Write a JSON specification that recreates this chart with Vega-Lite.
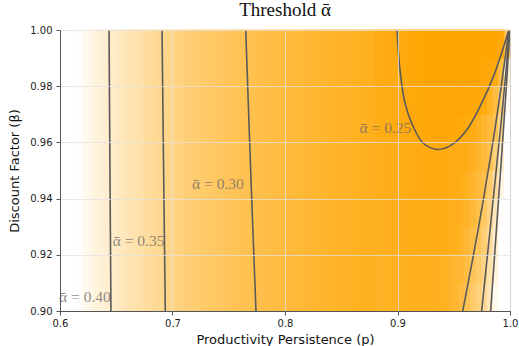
{
  "$schema": "https://vega.github.io/schema/vega-lite/v6.json",
  "width": 450,
  "height": 281,
  "autosize": "none",
  "padding": {"left": 60, "top": 30, "right": 9, "bottom": 35},
  "background": "white",
  "title": {"text": "Threshold ᾱ", "font": "Liberation Serif", "fontSize": 19, "fontWeight": "normal", "color": "#111", "offset": 5},
  "config": {
    "view": {"stroke": "#555", "strokeWidth": 1},
    "axis": {
      "labelFont": "DejaVu Sans", "labelFontSize": 10, "labelColor": "#222", "labelFlush": false,
      "titleFont": "DejaVu Sans", "titleFontSize": 13, "titleFontWeight": "normal", "titleColor": "#111",
      "tickColor": "#555", "tickSize": 4, "domainColor": "#555",
      "gridColor": "#e2e2e2", "gridOpacity": 0.75, "gridWidth": 1
    }
  },
  "layer": [
    {
      "data": {"values": [
        {"p":0.600,"p2":0.605,"b":0.90,"b2":1.00,"a":0.480},
        {"p":0.605,"p2":0.610,"b":0.90,"b2":1.00,"a":0.465},
        {"p":0.610,"p2":0.615,"b":0.90,"b2":1.00,"a":0.450},
        {"p":0.615,"p2":0.620,"b":0.90,"b2":1.00,"a":0.437},
        {"p":0.620,"p2":0.625,"b":0.90,"b2":1.00,"a":0.428},
        {"p":0.625,"p2":0.630,"b":0.90,"b2":1.00,"a":0.421},
        {"p":0.630,"p2":0.635,"b":0.90,"b2":1.00,"a":0.414},
        {"p":0.635,"p2":0.640,"b":0.90,"b2":1.00,"a":0.408},
        {"p":0.640,"p2":0.645,"b":0.90,"b2":1.00,"a":0.402},
        {"p":0.645,"p2":0.650,"b":0.90,"b2":1.00,"a":0.397},
        {"p":0.650,"p2":0.655,"b":0.90,"b2":1.00,"a":0.391},
        {"p":0.655,"p2":0.660,"b":0.90,"b2":1.00,"a":0.386},
        {"p":0.660,"p2":0.665,"b":0.90,"b2":1.00,"a":0.380},
        {"p":0.665,"p2":0.670,"b":0.90,"b2":1.00,"a":0.375},
        {"p":0.670,"p2":0.675,"b":0.90,"b2":1.00,"a":0.370},
        {"p":0.675,"p2":0.680,"b":0.90,"b2":1.00,"a":0.365},
        {"p":0.680,"p2":0.685,"b":0.90,"b2":1.00,"a":0.360},
        {"p":0.685,"p2":0.690,"b":0.90,"b2":1.00,"a":0.355},
        {"p":0.690,"p2":0.695,"b":0.90,"b2":1.00,"a":0.350},
        {"p":0.695,"p2":0.700,"b":0.90,"b2":1.00,"a":0.346},
        {"p":0.700,"p2":0.705,"b":0.90,"b2":1.00,"a":0.342},
        {"p":0.705,"p2":0.710,"b":0.90,"b2":1.00,"a":0.338},
        {"p":0.710,"p2":0.715,"b":0.90,"b2":1.00,"a":0.334},
        {"p":0.715,"p2":0.720,"b":0.90,"b2":1.00,"a":0.330},
        {"p":0.720,"p2":0.725,"b":0.90,"b2":1.00,"a":0.327},
        {"p":0.725,"p2":0.730,"b":0.90,"b2":1.00,"a":0.324},
        {"p":0.730,"p2":0.735,"b":0.90,"b2":1.00,"a":0.321},
        {"p":0.735,"p2":0.740,"b":0.90,"b2":1.00,"a":0.318},
        {"p":0.740,"p2":0.745,"b":0.90,"b2":1.00,"a":0.315},
        {"p":0.745,"p2":0.750,"b":0.90,"b2":1.00,"a":0.312},
        {"p":0.750,"p2":0.755,"b":0.90,"b2":1.00,"a":0.310},
        {"p":0.755,"p2":0.760,"b":0.90,"b2":1.00,"a":0.307},
        {"p":0.760,"p2":0.765,"b":0.90,"b2":1.00,"a":0.305},
        {"p":0.765,"p2":0.770,"b":0.90,"b2":1.00,"a":0.302},
        {"p":0.770,"p2":0.775,"b":0.90,"b2":1.00,"a":0.300},
        {"p":0.775,"p2":0.780,"b":0.90,"b2":1.00,"a":0.298},
        {"p":0.780,"p2":0.785,"b":0.90,"b2":1.00,"a":0.296},
        {"p":0.785,"p2":0.790,"b":0.90,"b2":1.00,"a":0.294},
        {"p":0.790,"p2":0.795,"b":0.90,"b2":1.00,"a":0.292},
        {"p":0.795,"p2":0.800,"b":0.90,"b2":1.00,"a":0.290},
        {"p":0.800,"p2":0.805,"b":0.90,"b2":1.00,"a":0.288},
        {"p":0.805,"p2":0.810,"b":0.90,"b2":1.00,"a":0.286},
        {"p":0.810,"p2":0.815,"b":0.90,"b2":1.00,"a":0.284},
        {"p":0.815,"p2":0.820,"b":0.90,"b2":1.00,"a":0.282},
        {"p":0.820,"p2":0.825,"b":0.90,"b2":1.00,"a":0.280},
        {"p":0.825,"p2":0.830,"b":0.90,"b2":1.00,"a":0.278},
        {"p":0.830,"p2":0.835,"b":0.90,"b2":1.00,"a":0.276},
        {"p":0.835,"p2":0.840,"b":0.90,"b2":1.00,"a":0.275},
        {"p":0.840,"p2":0.845,"b":0.90,"b2":1.00,"a":0.273},
        {"p":0.845,"p2":0.850,"b":0.90,"b2":1.00,"a":0.272},
        {"p":0.850,"p2":0.855,"b":0.90,"b2":1.00,"a":0.270},
        {"p":0.855,"p2":0.860,"b":0.90,"b2":1.00,"a":0.269},
        {"p":0.860,"p2":0.865,"b":0.90,"b2":1.00,"a":0.267},
        {"p":0.865,"p2":0.870,"b":0.90,"b2":1.00,"a":0.266},
        {"p":0.870,"p2":0.875,"b":0.90,"b2":1.00,"a":0.265},
        {"p":0.875,"p2":0.880,"b":0.90,"b2":1.00,"a":0.264},

        {"p":0.880,"p2":0.885,"b":0.98,"b2":1.00,"a":0.256},
        {"p":0.885,"p2":0.890,"b":0.98,"b2":1.00,"a":0.254},
        {"p":0.890,"p2":0.895,"b":0.98,"b2":1.00,"a":0.253},
        {"p":0.895,"p2":0.900,"b":0.98,"b2":1.00,"a":0.251},
        {"p":0.900,"p2":0.905,"b":0.98,"b2":1.00,"a":0.250},
        {"p":0.905,"p2":0.910,"b":0.98,"b2":1.00,"a":0.248},
        {"p":0.910,"p2":0.915,"b":0.98,"b2":1.00,"a":0.246},
        {"p":0.915,"p2":0.920,"b":0.98,"b2":1.00,"a":0.244},
        {"p":0.920,"p2":0.925,"b":0.98,"b2":1.00,"a":0.242},
        {"p":0.925,"p2":0.930,"b":0.98,"b2":1.00,"a":0.241},
        {"p":0.930,"p2":0.935,"b":0.98,"b2":1.00,"a":0.240},
        {"p":0.935,"p2":0.940,"b":0.98,"b2":1.00,"a":0.239},
        {"p":0.940,"p2":0.945,"b":0.98,"b2":1.00,"a":0.238},
        {"p":0.945,"p2":0.950,"b":0.98,"b2":1.00,"a":0.238},
        {"p":0.950,"p2":0.955,"b":0.98,"b2":1.00,"a":0.238},

        {"p":0.880,"p2":0.885,"b":0.96,"b2":0.98,"a":0.259},
        {"p":0.885,"p2":0.890,"b":0.96,"b2":0.98,"a":0.257},
        {"p":0.890,"p2":0.895,"b":0.96,"b2":0.98,"a":0.256},
        {"p":0.895,"p2":0.900,"b":0.96,"b2":0.98,"a":0.254},
        {"p":0.900,"p2":0.905,"b":0.96,"b2":0.98,"a":0.253},
        {"p":0.905,"p2":0.910,"b":0.96,"b2":0.98,"a":0.251},
        {"p":0.910,"p2":0.915,"b":0.96,"b2":0.98,"a":0.249},
        {"p":0.915,"p2":0.920,"b":0.96,"b2":0.98,"a":0.248},
        {"p":0.920,"p2":0.925,"b":0.96,"b2":0.98,"a":0.247},
        {"p":0.925,"p2":0.930,"b":0.96,"b2":0.98,"a":0.246},
        {"p":0.930,"p2":0.935,"b":0.96,"b2":0.98,"a":0.245},
        {"p":0.935,"p2":0.940,"b":0.96,"b2":0.98,"a":0.245},
        {"p":0.940,"p2":0.945,"b":0.96,"b2":0.98,"a":0.245},
        {"p":0.945,"p2":0.950,"b":0.96,"b2":0.98,"a":0.245},
        {"p":0.950,"p2":0.955,"b":0.96,"b2":0.98,"a":0.246},

        {"p":0.880,"p2":0.885,"b":0.94,"b2":0.96,"a":0.262},
        {"p":0.885,"p2":0.890,"b":0.94,"b2":0.96,"a":0.261},
        {"p":0.890,"p2":0.895,"b":0.94,"b2":0.96,"a":0.259},
        {"p":0.895,"p2":0.900,"b":0.94,"b2":0.96,"a":0.258},
        {"p":0.900,"p2":0.905,"b":0.94,"b2":0.96,"a":0.257},
        {"p":0.905,"p2":0.910,"b":0.94,"b2":0.96,"a":0.256},
        {"p":0.910,"p2":0.915,"b":0.94,"b2":0.96,"a":0.255},
        {"p":0.915,"p2":0.920,"b":0.94,"b2":0.96,"a":0.254},
        {"p":0.920,"p2":0.925,"b":0.94,"b2":0.96,"a":0.253},
        {"p":0.925,"p2":0.930,"b":0.94,"b2":0.96,"a":0.253},
        {"p":0.930,"p2":0.935,"b":0.94,"b2":0.96,"a":0.252},
        {"p":0.935,"p2":0.940,"b":0.94,"b2":0.96,"a":0.252},
        {"p":0.940,"p2":0.945,"b":0.94,"b2":0.96,"a":0.253},
        {"p":0.945,"p2":0.950,"b":0.94,"b2":0.96,"a":0.254},
        {"p":0.950,"p2":0.955,"b":0.94,"b2":0.96,"a":0.256},

        {"p":0.880,"p2":0.885,"b":0.92,"b2":0.94,"a":0.266},
        {"p":0.885,"p2":0.890,"b":0.92,"b2":0.94,"a":0.265},
        {"p":0.890,"p2":0.895,"b":0.92,"b2":0.94,"a":0.263},
        {"p":0.895,"p2":0.900,"b":0.92,"b2":0.94,"a":0.262},
        {"p":0.900,"p2":0.905,"b":0.92,"b2":0.94,"a":0.261},
        {"p":0.905,"p2":0.910,"b":0.92,"b2":0.94,"a":0.260},
        {"p":0.910,"p2":0.915,"b":0.92,"b2":0.94,"a":0.259},
        {"p":0.915,"p2":0.920,"b":0.92,"b2":0.94,"a":0.258},
        {"p":0.920,"p2":0.925,"b":0.92,"b2":0.94,"a":0.257},
        {"p":0.925,"p2":0.930,"b":0.92,"b2":0.94,"a":0.257},
        {"p":0.930,"p2":0.935,"b":0.92,"b2":0.94,"a":0.256},
        {"p":0.935,"p2":0.940,"b":0.92,"b2":0.94,"a":0.256},
        {"p":0.940,"p2":0.945,"b":0.92,"b2":0.94,"a":0.257},
        {"p":0.945,"p2":0.950,"b":0.92,"b2":0.94,"a":0.259},
        {"p":0.950,"p2":0.955,"b":0.92,"b2":0.94,"a":0.262},

        {"p":0.880,"p2":0.885,"b":0.90,"b2":0.92,"a":0.270},
        {"p":0.885,"p2":0.890,"b":0.90,"b2":0.92,"a":0.269},
        {"p":0.890,"p2":0.895,"b":0.90,"b2":0.92,"a":0.267},
        {"p":0.895,"p2":0.900,"b":0.90,"b2":0.92,"a":0.266},
        {"p":0.900,"p2":0.905,"b":0.90,"b2":0.92,"a":0.265},
        {"p":0.905,"p2":0.910,"b":0.90,"b2":0.92,"a":0.264},
        {"p":0.910,"p2":0.915,"b":0.90,"b2":0.92,"a":0.263},
        {"p":0.915,"p2":0.920,"b":0.90,"b2":0.92,"a":0.262},
        {"p":0.920,"p2":0.925,"b":0.90,"b2":0.92,"a":0.262},
        {"p":0.925,"p2":0.930,"b":0.90,"b2":0.92,"a":0.262},
        {"p":0.930,"p2":0.935,"b":0.90,"b2":0.92,"a":0.263},
        {"p":0.935,"p2":0.940,"b":0.90,"b2":0.92,"a":0.264},
        {"p":0.940,"p2":0.945,"b":0.90,"b2":0.92,"a":0.267},
        {"p":0.945,"p2":0.950,"b":0.90,"b2":0.92,"a":0.271},
        {"p":0.950,"p2":0.955,"b":0.90,"b2":0.92,"a":0.278},

        {"p":0.955,"p2":0.960,"b":0.90,"b2":0.91,"a":0.290},
        {"p":0.960,"p2":0.965,"b":0.90,"b2":0.91,"a":0.307},
        {"p":0.965,"p2":0.970,"b":0.90,"b2":0.91,"a":0.322},
        {"p":0.970,"p2":0.975,"b":0.90,"b2":0.91,"a":0.338},
        {"p":0.975,"p2":0.980,"b":0.90,"b2":0.91,"a":0.355},
        {"p":0.980,"p2":0.985,"b":0.90,"b2":0.91,"a":0.385},
        {"p":0.985,"p2":0.990,"b":0.90,"b2":0.91,"a":0.428},
        {"p":0.990,"p2":0.995,"b":0.90,"b2":0.91,"a":0.470},
        {"p":0.995,"p2":1.000,"b":0.90,"b2":0.91,"a":0.520},

        {"p":0.955,"p2":0.960,"b":0.91,"b2":0.92,"a":0.280},
        {"p":0.960,"p2":0.965,"b":0.91,"b2":0.92,"a":0.293},
        {"p":0.965,"p2":0.970,"b":0.91,"b2":0.92,"a":0.308},
        {"p":0.970,"p2":0.975,"b":0.91,"b2":0.92,"a":0.323},
        {"p":0.975,"p2":0.980,"b":0.91,"b2":0.92,"a":0.345},
        {"p":0.980,"p2":0.985,"b":0.91,"b2":0.92,"a":0.375},
        {"p":0.985,"p2":0.990,"b":0.91,"b2":0.92,"a":0.413},
        {"p":0.990,"p2":0.995,"b":0.91,"b2":0.92,"a":0.455},
        {"p":0.995,"p2":1.000,"b":0.91,"b2":0.92,"a":0.500},

        {"p":0.955,"p2":0.960,"b":0.92,"b2":0.93,"a":0.272},
        {"p":0.960,"p2":0.965,"b":0.92,"b2":0.93,"a":0.282},
        {"p":0.965,"p2":0.970,"b":0.92,"b2":0.93,"a":0.295},
        {"p":0.970,"p2":0.975,"b":0.92,"b2":0.93,"a":0.310},
        {"p":0.975,"p2":0.980,"b":0.92,"b2":0.93,"a":0.332},
        {"p":0.980,"p2":0.985,"b":0.92,"b2":0.93,"a":0.362},
        {"p":0.985,"p2":0.990,"b":0.92,"b2":0.93,"a":0.401},
        {"p":0.990,"p2":0.995,"b":0.92,"b2":0.93,"a":0.445},
        {"p":0.995,"p2":1.000,"b":0.92,"b2":0.93,"a":0.490},

        {"p":0.955,"p2":0.960,"b":0.93,"b2":0.94,"a":0.266},
        {"p":0.960,"p2":0.965,"b":0.93,"b2":0.94,"a":0.274},
        {"p":0.965,"p2":0.970,"b":0.93,"b2":0.94,"a":0.285},
        {"p":0.970,"p2":0.975,"b":0.93,"b2":0.94,"a":0.297},
        {"p":0.975,"p2":0.980,"b":0.93,"b2":0.94,"a":0.318},
        {"p":0.980,"p2":0.985,"b":0.93,"b2":0.94,"a":0.344},
        {"p":0.985,"p2":0.990,"b":0.93,"b2":0.94,"a":0.388},
        {"p":0.990,"p2":0.995,"b":0.93,"b2":0.94,"a":0.436},
        {"p":0.995,"p2":1.000,"b":0.93,"b2":0.94,"a":0.480},

        {"p":0.955,"p2":0.960,"b":0.94,"b2":0.95,"a":0.260},
        {"p":0.960,"p2":0.965,"b":0.94,"b2":0.95,"a":0.266},
        {"p":0.965,"p2":0.970,"b":0.94,"b2":0.95,"a":0.275},
        {"p":0.970,"p2":0.975,"b":0.94,"b2":0.95,"a":0.287},
        {"p":0.975,"p2":0.980,"b":0.94,"b2":0.95,"a":0.297},
        {"p":0.980,"p2":0.985,"b":0.94,"b2":0.95,"a":0.326},
        {"p":0.985,"p2":0.990,"b":0.94,"b2":0.95,"a":0.362},
        {"p":0.990,"p2":0.995,"b":0.94,"b2":0.95,"a":0.418},
        {"p":0.995,"p2":1.000,"b":0.94,"b2":0.95,"a":0.470},

        {"p":0.955,"p2":0.960,"b":0.95,"b2":0.96,"a":0.254},
        {"p":0.960,"p2":0.965,"b":0.95,"b2":0.96,"a":0.258},
        {"p":0.965,"p2":0.970,"b":0.95,"b2":0.96,"a":0.265},
        {"p":0.970,"p2":0.975,"b":0.95,"b2":0.96,"a":0.276},
        {"p":0.975,"p2":0.980,"b":0.95,"b2":0.96,"a":0.287},
        {"p":0.980,"p2":0.985,"b":0.95,"b2":0.96,"a":0.299},
        {"p":0.985,"p2":0.990,"b":0.95,"b2":0.96,"a":0.337},
        {"p":0.990,"p2":0.995,"b":0.95,"b2":0.96,"a":0.400},
        {"p":0.995,"p2":1.000,"b":0.95,"b2":0.96,"a":0.460},

        {"p":0.955,"p2":0.960,"b":0.96,"b2":0.97,"a":0.248},
        {"p":0.960,"p2":0.965,"b":0.96,"b2":0.97,"a":0.250},
        {"p":0.965,"p2":0.970,"b":0.96,"b2":0.97,"a":0.256},
        {"p":0.970,"p2":0.975,"b":0.96,"b2":0.97,"a":0.265},
        {"p":0.975,"p2":0.980,"b":0.96,"b2":0.97,"a":0.276},
        {"p":0.980,"p2":0.985,"b":0.96,"b2":0.97,"a":0.288},
        {"p":0.985,"p2":0.990,"b":0.96,"b2":0.97,"a":0.304},
        {"p":0.990,"p2":0.995,"b":0.96,"b2":0.97,"a":0.360},
        {"p":0.995,"p2":1.000,"b":0.96,"b2":0.97,"a":0.450},

        {"p":0.955,"p2":0.960,"b":0.97,"b2":0.98,"a":0.243},
        {"p":0.960,"p2":0.965,"b":0.97,"b2":0.98,"a":0.244},
        {"p":0.965,"p2":0.970,"b":0.97,"b2":0.98,"a":0.246},
        {"p":0.970,"p2":0.975,"b":0.97,"b2":0.98,"a":0.248},
        {"p":0.975,"p2":0.980,"b":0.97,"b2":0.98,"a":0.252},
        {"p":0.980,"p2":0.985,"b":0.97,"b2":0.98,"a":0.270},
        {"p":0.985,"p2":0.990,"b":0.97,"b2":0.98,"a":0.290},
        {"p":0.990,"p2":0.995,"b":0.97,"b2":0.98,"a":0.330},
        {"p":0.995,"p2":1.000,"b":0.97,"b2":0.98,"a":0.430},

        {"p":0.955,"p2":0.960,"b":0.98,"b2":0.99,"a":0.239},
        {"p":0.960,"p2":0.965,"b":0.98,"b2":0.99,"a":0.239},
        {"p":0.965,"p2":0.970,"b":0.98,"b2":0.99,"a":0.240},
        {"p":0.970,"p2":0.975,"b":0.98,"b2":0.99,"a":0.242},
        {"p":0.975,"p2":0.980,"b":0.98,"b2":0.99,"a":0.244},
        {"p":0.980,"p2":0.985,"b":0.98,"b2":0.99,"a":0.247},
        {"p":0.985,"p2":0.990,"b":0.98,"b2":0.99,"a":0.251},
        {"p":0.990,"p2":0.995,"b":0.98,"b2":0.99,"a":0.295},
        {"p":0.995,"p2":1.000,"b":0.98,"b2":0.99,"a":0.410},

        {"p":0.955,"p2":0.960,"b":0.99,"b2":1.00,"a":0.236},
        {"p":0.960,"p2":0.965,"b":0.99,"b2":1.00,"a":0.236},
        {"p":0.965,"p2":0.970,"b":0.99,"b2":1.00,"a":0.237},
        {"p":0.970,"p2":0.975,"b":0.99,"b2":1.00,"a":0.238},
        {"p":0.975,"p2":0.980,"b":0.99,"b2":1.00,"a":0.239},
        {"p":0.980,"p2":0.985,"b":0.99,"b2":1.00,"a":0.241},
        {"p":0.985,"p2":0.990,"b":0.99,"b2":1.00,"a":0.243},
        {"p":0.990,"p2":0.995,"b":0.99,"b2":1.00,"a":0.246},
        {"p":0.995,"p2":1.000,"b":0.99,"b2":1.00,"a":0.300}
      ]},
      "mark": {"type": "rect", "strokeWidth": 1},
      "encoding": {
        "x": {"field": "p", "type": "quantitative", "scale": {"domain": [0.6, 1.0], "nice": false, "zero": false},
              "axis": {"title": "Productivity Persistence (p)", "values": [0.6, 0.7, 0.8, 0.9, 1.0], "format": ".1f", "grid": true, "zindex": 1, "labelPadding": 3, "titlePadding": 5}},
        "x2": {"field": "p2"},
        "y": {"field": "b", "type": "quantitative", "scale": {"domain": [0.9, 1.0], "nice": false, "zero": false},
              "axis": {"title": "Discount Factor (β)", "values": [0.90, 0.92, 0.94, 0.96, 0.98, 1.00], "format": ".2f", "grid": true, "zindex": 1, "labelPadding": 4, "titlePadding": 8}},
        "y2": {"field": "b2"},
        "color": {"field": "a", "type": "quantitative", "scale": {"domain": [0.24, 0.44], "range": ["#ffa500", "#ffffff"], "clamp": true, "interpolate": "rgb"}, "legend": null},
        "stroke": {"field": "a", "type": "quantitative", "scale": {"domain": [0.24, 0.44], "range": ["#ffa500", "#ffffff"], "clamp": true, "interpolate": "rgb"}, "legend": null}
      }
    },
    {
      "data": {"values": [
        {"c":"40L","o":1,"p":0.6436,"b":1.00},
        {"c":"40L","o":2,"p":0.6444,"b":0.95},
        {"c":"40L","o":3,"p":0.6453,"b":0.90},
        {"c":"35L","o":1,"p":0.6907,"b":1.00},
        {"c":"35L","o":2,"p":0.6921,"b":0.95},
        {"c":"35L","o":3,"p":0.6936,"b":0.90},
        {"c":"30L","o":1,"p":0.7651,"b":1.00},
        {"c":"30L","o":2,"p":0.7695,"b":0.95},
        {"c":"30L","o":3,"p":0.7742,"b":0.90},
        {"c":"25U","o":1,"p":0.8996,"b":1.00},
        {"c":"25U","o":2,"p":0.9022,"b":0.9858},
        {"c":"25U","o":3,"p":0.9067,"b":0.9739},
        {"c":"25U","o":4,"p":0.9140,"b":0.9656},
        {"c":"25U","o":5,"p":0.9229,"b":0.9597},
        {"c":"25U","o":6,"p":0.9354,"b":0.9575},
        {"c":"25U","o":7,"p":0.9482,"b":0.9591},
        {"c":"25U","o":8,"p":0.9615,"b":0.9644},
        {"c":"25U","o":9,"p":0.9733,"b":0.9727},
        {"c":"25U","o":10,"p":0.9852,"b":0.9834},
        {"c":"25U","o":11,"p":0.9985,"b":0.9994},
        {"c":"30R","o":1,"p":0.9580,"b":0.90},
        {"c":"30R","o":2,"p":0.9716,"b":0.9288},
        {"c":"30R","o":3,"p":0.9837,"b":0.9573},
        {"c":"30R","o":4,"p":0.9915,"b":0.978},
        {"c":"30R","o":5,"p":0.9990,"b":1.00},
        {"c":"35R","o":1,"p":0.9748,"b":0.90},
        {"c":"35R","o":2,"p":0.9896,"b":0.9573},
        {"c":"35R","o":3,"p":0.9950,"b":0.979},
        {"c":"35R","o":4,"p":0.9996,"b":1.00},
        {"c":"40R","o":1,"p":0.9828,"b":0.90},
        {"c":"40R","o":2,"p":0.9929,"b":0.9573},
        {"c":"40R","o":3,"p":0.9966,"b":0.979},
        {"c":"40R","o":4,"p":0.9998,"b":1.00}
      ]},
      "mark": {"type": "line", "color": "#5a5a5a", "strokeWidth": 1.6, "interpolate": "catmull-rom", "clip": true},
      "encoding": {
        "x": {"field": "p", "type": "quantitative"},
        "y": {"field": "b", "type": "quantitative"},
        "detail": {"field": "c", "type": "nominal"},
        "order": {"field": "o", "type": "quantitative"}
      }
    },
    {
      "data": {"values": [
        {"t":"ᾱ = 0.40","p":0.6222,"b":0.9050},
        {"t":"ᾱ = 0.35","p":0.6698,"b":0.9249},
        {"t":"ᾱ = 0.30","p":0.7404,"b":0.9452},
        {"t":"ᾱ = 0.25","p":0.8893,"b":0.9651}
      ]},
      "mark": {"type": "text", "font": "Liberation Serif", "fontSize": 15.5, "color": "#6a6a6a", "opacity": 0.75, "align": "center", "baseline": "middle"},
      "encoding": {
        "x": {"field": "p", "type": "quantitative"},
        "y": {"field": "b", "type": "quantitative"},
        "text": {"field": "t", "type": "nominal"}
      }
    }
  ]
}
